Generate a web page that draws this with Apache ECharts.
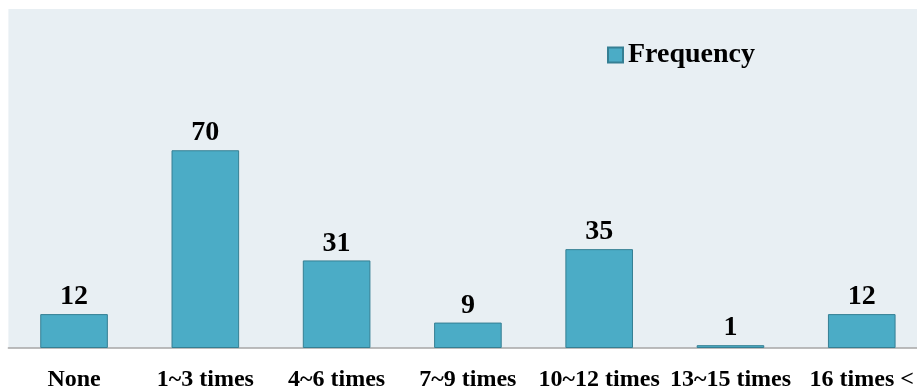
<!DOCTYPE html>
<html>
<head>
<meta charset="utf-8">
<script src="https://cdn.jsdelivr.net/npm/echarts@6/dist/echarts.min.js"></script>
<style>
  html, body { margin: 0; padding: 0; background: #ffffff; }
  #chart { width: 917px; height: 389px; }
</style>
</head>
<body>
<div id="chart"></div>
<script>
// Visit frequency counts per category
const categories = ['None', '1~3 times', '4~6 times', '7~9 times', '10~12 times', '13~15 times', '16 times <'];
const frequency = [12, 70, 31, 9, 35, 1, 12];
const seriesName = 'Frequency';

const serif = '"Liberation Serif", "Times New Roman", serif';

const chart = echarts.init(document.getElementById('chart'), null, { renderer: 'canvas' });

chart.setOption({
  animation: false,
  backgroundColor: '#ffffff',
  legend: {
    data: [seriesName],
    left: 607,
    top: 41,
    padding: 0,
    itemWidth: 15,
    itemHeight: 15,
    itemGap: 5,
    icon: 'rect',
    textStyle: { fontFamily: serif, fontWeight: 'bold', fontSize: 28, color: '#000000' }
  },
  grid: {
    left: 8.4,
    width: 919,
    top: 9,
    bottom: 41,
    outerBoundsMode: 'none',
    containLabel: false,
    show: true,
    backgroundColor: '#e8eff3',
    borderWidth: 0
  },
  xAxis: {
    type: 'category',
    data: categories,
    axisTick: { show: false },
    axisLine: { lineStyle: { color: '#a6a6a6', width: 1.5 } },
    axisLabel: {
      interval: 0,
      margin: 20,
      fontFamily: serif,
      fontWeight: 'bold',
      fontSize: 24,
      color: '#000000'
    }
  },
  yAxis: {
    type: 'value',
    min: 0,
    max: 120,
    show: false,
    splitLine: { show: false }
  },
  series: [{
    name: seriesName,
    type: 'bar',
    data: frequency,
    barWidth: '51.5%',
    itemStyle: { color: '#4bacc6', borderColor: '#357f93', borderWidth: 1 },
    label: {
      show: true,
      position: 'top',
      distance: 3,
      fontFamily: serif,
      fontWeight: 'bold',
      fontSize: 28,
      color: '#000000'
    }
  }]
});
</script>
</body>
</html>
